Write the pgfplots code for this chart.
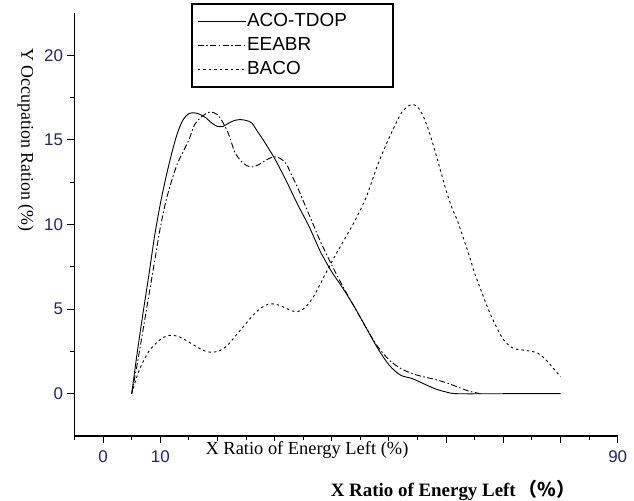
\documentclass[border=0pt]{standalone}
\usepackage{fontspec}
\setmainfont{Liberation Serif}
\newfontfamily\arial{Liberation Sans}
\newfontfamily\cjk{Noto Sans CJK SC}
\usepackage{pgfplots}
\pgfplotsset{compat=1.18}
\definecolor{ticknavy}{HTML}{23236B}

\begin{document}
\begin{tikzpicture}
\fill[white] (0,0) rectangle (634bp,501bp);
\useasboundingbox (0,0) rectangle (634bp,501bp);
\begin{axis}[
  at={(74.5bp,65bp)}, anchor=south west, scale only axis,
  width=543.2bp, height=423bp,
  xmin=-5, xmax=90, ymin=-2.5, ymax=22.5,
  axis x line*=bottom, axis y line*=left,
  axis line style={line width=1.1bp, -},
  tick align=outside, tick style={black, line width=1bp},
  major tick length=7bp, minor tick length=4bp,
  xtick={0,10,...,90}, minor xtick={-5,5,...,85},
  xticklabels={0,10,,,,,,,,90},
  ytick={0,5,10,15,20}, minor ytick={2.5,7.5,12.5,17.5},
  yticklabels={0,5,10,15,20},
  ticklabel style={font=\arial\fontsize{17}{17}\selectfont, text=ticknavy},
  xticklabel style={yshift=-4bp},
  yticklabel style={xshift=-1bp},
  clip=false,
  legend style={at={(0.2163,1.0213)}, anchor=north west, draw=none, fill=none,
    font=\arial\fontsize{19}{21}\selectfont,
    nodes={text height=14bp, text depth=4bp, inner ysep=3bp, inner xsep=1bp},
    cells={anchor=west}, row sep=0bp, inner xsep=5bp, inner ysep=5bp},
  legend image code/.code={\draw[#1] (0bp,0bp) -- (48bp,0bp);},
]
\addplot[black, line width=0.9bp, smooth] coordinates {
 (5,0) (6,2.5) (7,4.8) (8,7) (9,9.3) (10,11.2) (11,12.8) (12,14.2) (13,15.4)
 (14,16.2) (15,16.55) (16,16.6) (17,16.5) (18,16.3) (19,16.0) (20,15.8) (21,15.8)
 (22,16.0) (23,16.15) (24,16.2) (25,16.15) (26,16.0) (27,15.5) (28,15.0) (30,13.9)
 (32,12.6) (34,11.2) (36,9.9) (38,8.4) (40,7.2) (42,6.2) (44,5.1) (46,3.9) (48,2.7)
 (50,1.7) (52,1.1) (54,0.9) (56,0.6) (58,0.3) (60,0.1) (62,0) (70,0) (80,0)};
\addlegendentry{ACO-TDOP}
\addplot[black, line width=0.9bp, smooth, dash pattern=on 6bp off 2.5bp on 1.5bp off 2.5bp] coordinates {
 (5,0) (6,1.8) (7,3.8) (8,5.8) (9,7.8) (10,9.8) (11,11.4) (12,12.6) (13,13.6)
 (14,14.3) (15,15.0) (16,15.9) (17,16.3) (18,16.55) (18.8,16.65) (20,16.5) (21,16.0)
 (22,15.3) (23,14.3) (24,13.8) (25,13.5) (26,13.4) (27,13.5) (28,13.7) (29,13.9)
 (30,14.0) (31,13.9) (32,13.6) (33,12.9) (34,12.2) (35,11.4) (36,10.6) (37,9.8)
 (38,9.0) (40,7.6) (42,6.3) (44,5.1) (46,3.9) (48,2.8) (50,2.0) (52,1.5) (54,1.2)
 (56,1.0) (58,0.85) (60,0.65) (62,0.4) (64,0.15) (66,0)};
\addlegendentry{EEABR}
\addplot[black, line width=0.9bp, smooth, dash pattern=on 2.5bp off 3bp] coordinates {
 (5,0) (6,1.1) (7,1.9) (8,2.5) (9,2.9) (10,3.2) (11,3.4) (12,3.45) (13,3.4)
 (14,3.25) (15,3.05) (16,2.85) (17,2.65) (18,2.5) (19,2.45) (20,2.5) (21,2.65)
 (22,2.95) (23,3.35) (24,3.75) (25,4.15) (26,4.55) (27,4.9) (28,5.15) (29,5.3)
 (30,5.3) (31,5.2) (32,5.05) (33,4.9) (34,4.85) (35,5.0) (36,5.35) (37,5.85)
 (38,6.5) (40,7.8) (42,9.0) (44,10.2) (46,11.6) (48,13.5) (50,15.1) (52,16.5)
 (53,16.9) (54,17.1) (55,16.95) (56,16.4) (57,15.5) (58,14.4) (59,13.2) (60,12.0)
 (61,11.0) (62,10.2) (63,9.2) (64,8.2) (65,7.1) (66,6.2) (67,5.3) (68,4.5) (69,3.8)
 (70,3.2) (71,2.85) (72,2.65) (73,2.6) (74,2.55) (75,2.5) (76,2.4) (77,2.15)
 (78,1.8) (79,1.4) (80,1.0)};
\addlegendentry{BACO}

% legend frame
\draw[black, line width=1.1bp] (rel axis cs:0.2163,1.0213) rectangle (rel axis cs:0.5863,0.8251);

\node[rotate=-90, font=\fontsize{18}{18}\selectfont] at (rel axis cs:-0.0900,0.6998) {Y Occupation Ration (\%)};
\node[anchor=base, fill=white, inner sep=1bp, font=\fontsize{18.5}{18.5}\selectfont] at (rel axis cs:0.428,-0.0449) {X Ratio of Energy Left (\%)};
\node[anchor=base, font=\bfseries\fontsize{19}{19}\selectfont] at (rel axis cs:0.697,-0.1442) {X Ratio of Energy Left\,{\cjk （\%）}};
\end{axis}
\end{tikzpicture}
\end{document}
